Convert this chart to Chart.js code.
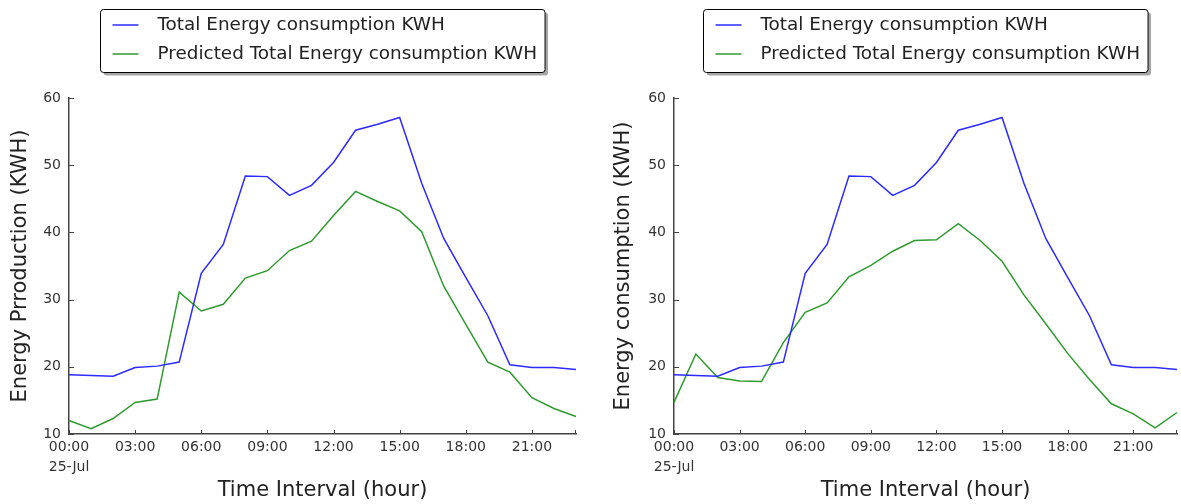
<!DOCTYPE html>
<html>
<head>
<meta charset="utf-8">
<script src="https://cdn.jsdelivr.net/npm/chart.js@4/dist/chart.umd.min.js"></script>
<style>
  html, body { margin: 0; padding: 0; background: #fff; }
  #wrap { position: relative; width: 1181px; height: 504px; }
  canvas { position: absolute; top: 0; }
</style>
</head>
<body>
<div id="wrap">
  <canvas id="left-chart" width="595" height="504" style="left:0"></canvas>
  <canvas id="right-chart" width="586" height="504" style="left:595px"></canvas>
</div>
<script>
// hourly readings for 25-Jul
const hours = ['00:00', '01:00', '02:00', '03:00', '04:00', '05:00', '06:00', '07:00',
    '08:00', '09:00', '10:00', '11:00', '12:00', '13:00', '14:00', '15:00',
    '16:00', '17:00', '18:00', '19:00', '20:00', '21:00', '22:00', '23:00'];
const dayLabel = '25-Jul';

const totalKwh = [18.8, 18.7, 18.6, 19.9, 20.1, 20.7, 33.9, 38.2, 48.4, 48.3, 45.5, 47.0,
    50.4, 55.2, 56.1, 57.1, 47.3, 39.1, 33.3, 27.6, 20.3, 19.9, 19.9, 19.6];
const predictedLeft = [12.0, 10.8, 12.3, 14.7, 15.2, 31.1, 28.3, 29.3, 33.2, 34.3, 37.3, 38.7,
    42.5, 46.1, 44.6, 43.2, 40.1, 32.0, 26.3, 20.7, 19.2, 15.4, 13.8, 12.6];
const predictedRight = [14.7, 21.9, 18.4, 17.9, 17.8, 23.6, 28.1, 29.5, 33.4, 35.1, 37.2, 38.8,
    38.9, 41.3, 38.8, 35.7, 30.7, 26.4, 22.0, 18.1, 14.5, 13.0, 10.9, 13.2];
const yTicks = [10, 20, 30, 40, 50, 60];

const FONT = '"DejaVu Sans", sans-serif';
const TEXT = '#333';

// matplotlib-style boxed legend + small inward tick marks
const boxLegend = {
    id: 'boxLegend',
    afterDraw(chart) {
        const c = chart.ctx;
        const area = chart.chartArea;
        const xs = chart.scales.x, ys = chart.scales.y;

        c.save();
        c.strokeStyle = '#444';
        c.lineWidth = 1;
        c.beginPath();
        hours.forEach((h, i) => {
            if (i % 3 !== 0) return;
            const px = Math.round(xs.getPixelForValue(i)) + 0.5;
            c.moveTo(px, area.bottom);
            c.lineTo(px, area.bottom - 4);
        });
        const lastX = Math.round(xs.getPixelForValue(hours.length - 1)) - 0.5;
        c.moveTo(lastX, area.bottom);
        c.lineTo(lastX, area.bottom - 4);
        yTicks.forEach(v => {
            const py = Math.round(ys.getPixelForValue(v)) + 0.5;
            c.moveTo(area.left, py);
            c.lineTo(area.left + 5, py);
        });
        c.stroke();

        // legend
        c.font = '18.4px ' + FONT;
        const items = chart.data.datasets;
        let textW = 0;
        items.forEach(d => { textW = Math.max(textW, c.measureText(d.label).width); });
        const w = 57 + textW + 8;
        const h = 63;
        const x0 = Math.round((area.left + area.right) / 2 - w / 2) + 0.5;
        const y0 = 9.5;

        c.fillStyle = 'rgba(0,0,0,0.35)';
        c.beginPath();
        c.roundRect(x0 + 3, y0 + 3, w, h, 3);
        c.fill();
        c.fillStyle = '#fff';
        c.strokeStyle = '#000';
        c.beginPath();
        c.roundRect(x0, y0, w, h, 3);
        c.fill();
        c.stroke();

        items.forEach((d, i) => {
            const ly = 25 + i * 29;
            c.strokeStyle = d.borderColor;
            c.lineWidth = 1.5;
            c.beginPath();
            c.moveTo(x0 + 12, ly);
            c.lineTo(x0 + 38, ly);
            c.stroke();
            c.fillStyle = '#222';
            c.textBaseline = 'middle';
            c.fillText(d.label, x0 + 57, ly);
        });
        c.restore();
    }
};

function makeChart(id, predicted, yTitle, yWidth, titlePad, rightPad) {
    const ctx = document.getElementById(id).getContext('2d');
    return new Chart(ctx, {
        type: 'line',
        data: {
            labels: hours,
            datasets: [{
                label: 'Total Energy consumption KWH',
                data: totalKwh,
                borderColor: '#2b2bff',
                borderWidth: 1.5
            }, {
                label: 'Predicted Total Energy consumption KWH',
                data: predicted,
                borderColor: '#2f9a2f',
                borderWidth: 1.5
            }]
        },
        options: {
            responsive: false,
            animation: false,
            elements: { point: { radius: 0 }, line: { tension: 0 } },
            layout: { padding: { top: 98, right: rightPad, bottom: 0, left: 0 } },
            plugins: { legend: { display: false }, tooltip: { enabled: false } },
            scales: {
                x: {
                    grid: { display: false, drawTicks: false },
                    border: { display: true, color: '#444', width: 1.5 },
                    afterFit: s => { s.height = 70; },
                    ticks: {
                        autoSkip: false,
                        maxRotation: 0,
                        padding: 4,
                        color: TEXT,
                        font: { family: FONT, size: 14, lineHeight: 1.4 },
                        callback: (v, i) => {
                            if (i === 0) return [hours[0], dayLabel];
                            return i % 3 === 0 ? hours[i] : '';
                        }
                    },
                    title: {
                        display: true,
                        text: 'Time Interval (hour)',
                        color: '#222',
                        font: { family: FONT, size: 21 },
                        padding: { top: 0, bottom: 1 }
                    }
                },
                y: {
                    min: 10,
                    max: 60,
                    grid: { display: false, drawTicks: false },
                    border: { display: true, color: '#444', width: 1.5 },
                    afterFit: s => { s.width = yWidth; },
                    ticks: {
                        stepSize: 10,
                        padding: 8,
                        color: TEXT,
                        font: { family: FONT, size: 14 }
                    },
                    title: {
                        display: true,
                        text: yTitle,
                        color: '#222',
                        font: { family: FONT, size: 21 },
                        padding: { top: titlePad, bottom: 0 }
                    }
                }
            }
        },
        plugins: [boxLegend]
    });
}

makeChart('left-chart', predictedLeft, 'Energy Prroduction (KWH)', 69, 8, 19);
makeChart('right-chart', predictedRight, 'Energy consumption (KWH)', 79, 16, 2);
</script>
</body>
</html>
